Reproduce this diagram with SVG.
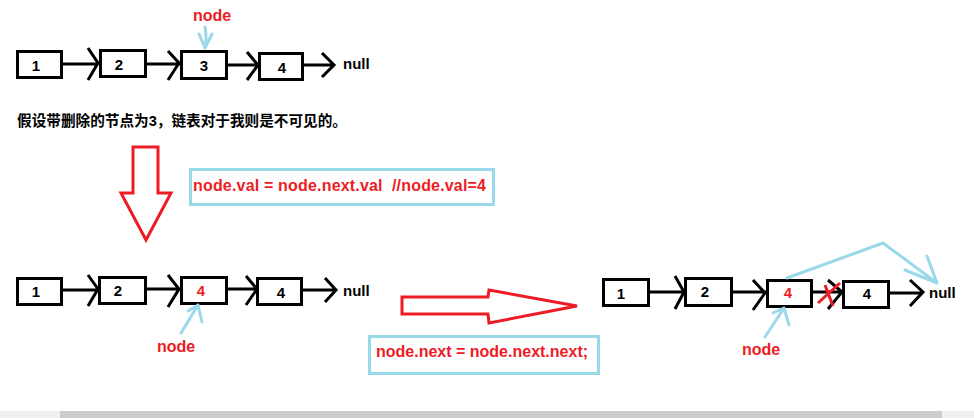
<svg xmlns="http://www.w3.org/2000/svg" width="974" height="418" viewBox="0 0 974 418">
<style>
.box{fill:#fff;stroke:#000;stroke-width:3}
.lbl{font-family:"Liberation Sans",Arial,sans-serif;font-weight:bold;font-size:15px;fill:#000;text-anchor:middle}
.red{fill:#ed1c24}
.nul{font-family:"Liberation Sans",Arial,sans-serif;font-weight:bold;font-size:15px;fill:#000}
.nd{font-family:"Liberation Sans",Arial,sans-serif;font-weight:bold;font-size:16px;fill:#ed1c24}
.code{font-family:"Liberation Sans",Arial,sans-serif;font-weight:bold;font-size:16px;fill:#ed1c24;white-space:pre}
.cn{font-family:"Liberation Sans","Noto Sans CJK SC",sans-serif;font-weight:bold;font-size:15px;fill:#000}
.ln{fill:none;stroke:#000;stroke-width:3;stroke-linejoin:miter}
.bl{fill:none;stroke:#99d9ea;stroke-width:3;stroke-linecap:round;stroke-linejoin:round}
.cbox{fill:#fff;stroke:#99d9ea;stroke-width:3}
.bigarrow{fill:#fff;stroke:#ed1c24;stroke-width:3}
</style>
<rect width="974" height="418" fill="#fff"/>

<!-- Row 1 -->
<g id="r1n1"><rect class="box" x="17.5" y="51.5" width="44" height="26"/><text class="lbl" x="36" y="71">1</text></g>
<g id="r1n2"><rect class="box" x="100.5" y="50.5" width="45" height="26"/><text class="lbl" x="119" y="70">2</text></g>
<g id="r1n3"><rect class="box" x="181.5" y="51.5" width="45" height="27"/><text class="lbl" x="204" y="71">3</text></g>
<g id="r1n4"><rect class="box" x="259.5" y="53.5" width="43" height="26"/><text class="lbl" x="282" y="73">4</text></g>
<g id="r1null"><text class="nul" x="343" y="69">null</text></g>
<g id="r1node"><text class="nd" x="193" y="21">node</text></g>

<!-- Chinese caption -->
<g id="caption"><text class="cn" x="17" y="126" textLength="330" lengthAdjust="spacingAndGlyphs">假设带删除的节点为3，链表对于我则是不可见的。</text></g>

<!-- Down arrow -->
<g id="downArrow"><polygon class="bigarrow" points="133,147 158,147 158,193 171,193 146,240 121,193 133,193"/></g>

<!-- code box 1 -->
<g id="code1"><rect class="cbox" x="190.5" y="169.5" width="303" height="35"/><text class="code" x="193" y="191" xml:space="preserve" textLength="293" lengthAdjust="spacing">node.val = node.next.val  //node.val=4</text></g>

<!-- Row 2 -->
<g id="r2n1"><rect class="box" x="17.5" y="278.5" width="44" height="26"/><text class="lbl" x="36" y="297">1</text></g>
<g id="r2n2"><rect class="box" x="99.5" y="277.5" width="46" height="26"/><text class="lbl" x="118" y="296">2</text></g>
<g id="r2n3"><rect class="box" x="181.5" y="277.5" width="45" height="26"/><text class="lbl red" x="201" y="296">4</text></g>
<g id="r2n4"><rect class="box" x="257.5" y="278.5" width="44" height="26"/><text class="lbl" x="281" y="298">4</text></g>
<g id="r2null"><text class="nul" x="343" y="296">null</text></g>
<g id="r2node"><text class="nd" x="157" y="352">node</text></g>

<!-- Right arrow -->
<g id="rightArrow"><polygon class="bigarrow" points="402,297 488,297 489,290 577,306 489,323 488,314 402,314"/></g>

<!-- code box 2 -->
<g id="code2"><rect class="cbox" x="369.5" y="336.5" width="229" height="37"/><text class="code" x="376" y="357">node.next = node.next.next;</text></g>

<!-- Row 3 -->
<g id="r3n1"><rect class="box" x="603.5" y="279.5" width="45" height="26"/><text class="lbl" x="621" y="299">1</text></g>
<g id="r3n2"><rect class="box" x="685.5" y="278.5" width="46" height="27"/><text class="lbl" x="705" y="297">2</text></g>
<g id="r3n3"><rect class="box" x="767.5" y="280.5" width="44" height="26"/><text class="lbl red" x="788" y="298">4</text></g>
<g id="r3n4"><rect class="box" x="843.5" y="281.5" width="45" height="26"/><text class="lbl" x="867" y="299">4</text></g>
<g id="r3null"><text class="nul" x="929" y="298">null</text></g>
<g id="r3node"><text class="nd" x="742" y="355">node</text></g>

<!-- connectors -->
<g id="connectors">
  <!-- row1 -->
  <path class="ln" d="M62,64 H98 M88,48 L98,63 L88,80"/>
  <path class="ln" d="M146,64 H180 M168,51 L179,63 L168,80"/>
  <path class="ln" d="M227,65 H258 M247,52 L258,65 L247,80"/>
  <path class="ln" d="M303,65 H334 M322,53 L334,65 L322,77"/>
  <path class="bl" d="M205,27 Q207,37 205,48 M199,34 L205,48 L212,34"/>
  <!-- row2 -->
  <path class="ln" d="M62,290 H98 M88,275 L98,289 L88,306"/>
  <path class="ln" d="M146,289 H180 M168,275 L179,289 L168,307"/>
  <path class="ln" d="M227,289 H257 M246,276 L257,289 L246,305"/>
  <path class="ln" d="M302,290 H336 M325,278 L336,290 L325,302"/>
  <path class="bl" d="M181,333 L198,305 M188,311 L198,305 L202,322"/>
  <!-- row3 -->
  <path class="ln" d="M649,292 H684 M675,276 L684,292 L675,309"/>
  <path class="ln" d="M732,292 H766 M753,280 L765,293 L753,310"/>
  <path class="ln" d="M812,292 H842 M828,280 L842,292 L828,309"/>
  <path class="ln" d="M889,293 H922 M910,280 L923,292 L910,306"/>
  <path d="M818,303 L840,283 M825,285 L833,306" fill="none" stroke="#ed1c24" stroke-width="3"/>
  <path class="bl" d="M787,278 L883,243 L937,283 M927,256 L937,283 M905,270 L937,283"/>
  <path class="bl" d="M765,337 L784,308 M773,313 L784,308 L789,325"/>
</g>

<!-- scrollbar -->
<g id="scrollbar">
  <rect x="0" y="411" width="974" height="7" fill="#f0f0f0"/>
  <rect x="60" y="411" width="882" height="7" fill="#cdcdcd"/>
</g>
</svg>
